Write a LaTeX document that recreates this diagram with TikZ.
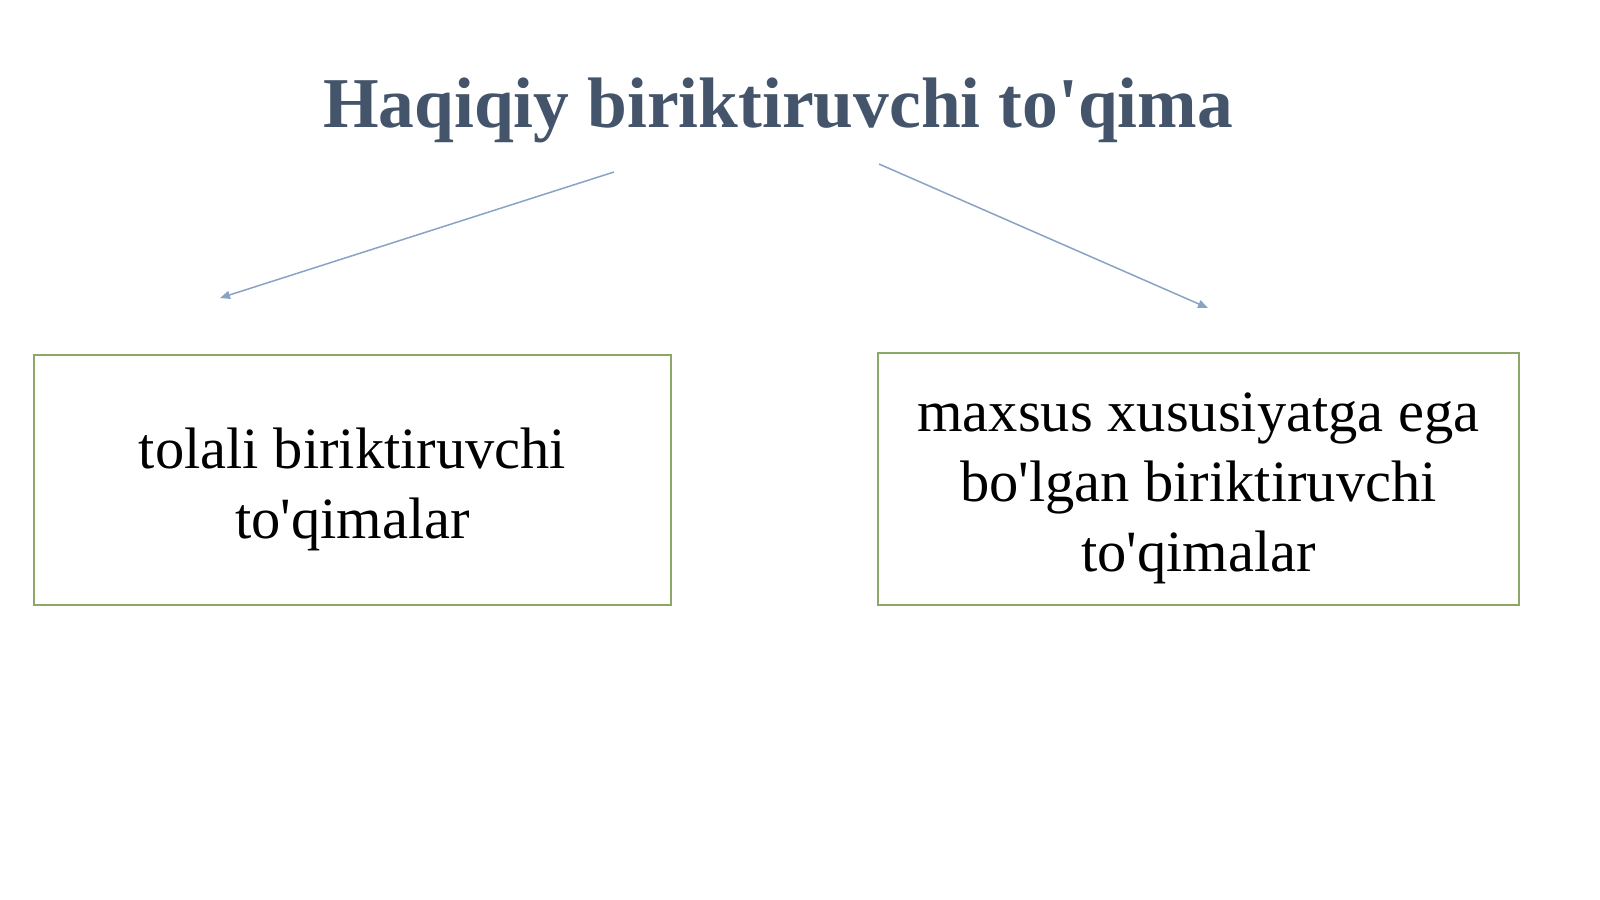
\documentclass[tikz,border=0pt]{standalone}
\usepackage{fontspec}
\setmainfont{Liberation Serif}[Ligatures=TeXOff]
\usetikzlibrary{arrows.meta}
\definecolor{titlecol}{HTML}{44546A}
\definecolor{arrowcol}{HTML}{8AA2C4}
\definecolor{boxcol}{HTML}{8CA868}
\tikzset{
  box/.style={draw=boxcol, line width=1.5pt, inner sep=0pt},
  boxtext/.style={align=center, inner sep=0pt, font=\fontsize{58.5}{70}\selectfont},
  conn/.style={draw=arrowcol, line width=1.5pt, -{Triangle[length=10pt,width=8pt]}}
}
\begin{document}
\begin{tikzpicture}[x=1pt,y=-1pt]
\useasboundingbox (0,0) rectangle (1600,899);
\node[font=\fontsize{71.5}{86}\selectfont\bfseries, text=titlecol, anchor=base] (title) at (778,127) {Haqiqiy biriktiruvchi to'qima};
\node[box, minimum width=637pt, minimum height=250pt] (left) at (352.5,480) {};
\node[box, minimum width=641pt, minimum height=252pt] (right) at (1198.5,479) {};
\node[boxtext] (lefttext) at ([yshift=-9pt]left.center) {tolali biriktiruvchi\\to'qimalar};
\node[boxtext] (righttext) at ([yshift=-9pt]right.center) {maxsus xususiyatga ega\\bo'lgan biriktiruvchi\\to'qimalar};
\coordinate (l1) at (614,172);
\coordinate (l2) at (220,298);
\coordinate (r1) at (879,164);
\coordinate (r2) at (1208,308);
\draw[conn] (l1) -- (l2);
\draw[conn] (r1) -- (r2);
\end{tikzpicture}
\end{document}
